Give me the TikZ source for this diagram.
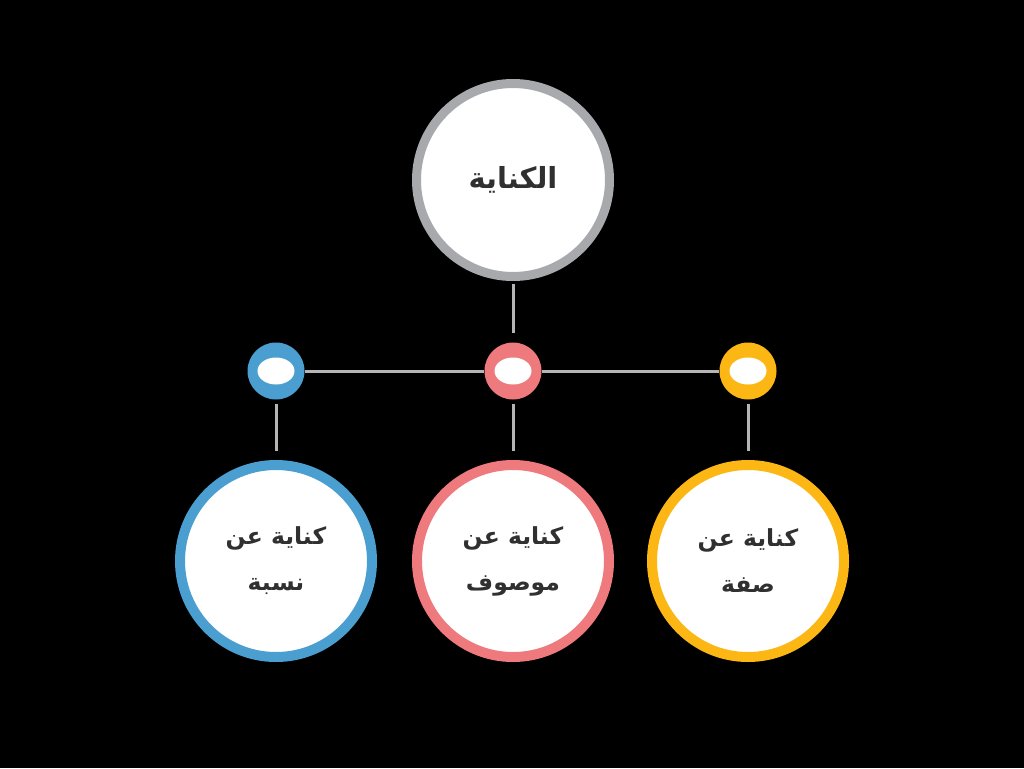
\documentclass[tikz,border=0pt]{standalone}
\usepackage{fontspec}
\newfontfamily\arabicfont[Script=Arabic]{DejaVu Sans}
\TeXXeTstate=1
\definecolor{ringgray}{HTML}{A7A9AC}
\definecolor{lnk}{HTML}{B5B5B5}
\definecolor{cblue}{HTML}{4A9FD0}
\definecolor{cpink}{HTML}{EF7A7D}
\definecolor{cyellow}{HTML}{FDB714}
\definecolor{txt}{HTML}{303030}
\tikzset{
  bigc/.style={circle, fill=white, draw=#1, line width=10pt, minimum size=192pt, inner sep=0pt,
    text=txt, align=center, font=\arabicfont\bfseries\fontsize{23.5}{46}\selectfont},
  dot/.style={circle, fill=#1, minimum size=57pt, inner sep=0pt},
  lnkline/.style={draw=lnk, line width=3pt}
}
\begin{document}
\begin{tikzpicture}[x=1pt,y=-1pt]
\fill[black] (0,0) rectangle (1024,768);
\useasboundingbox (0,0) rectangle (1024,768);
\node[bigc=ringgray, line width=9pt, minimum size=193pt, font=\arabicfont\bfseries\fontsize{29}{34}\selectfont] (top) at (513,180) {\raisebox{2pt}{\beginR الكناية\endR}};
\node[dot=cblue] (dblue) at (276,371) {};
\node[dot=cpink] (dpink) at (513,371) {};
\node[dot=cyellow] (dyellow) at (748,371) {};
\foreach \d in {dblue,dpink,dyellow}
  \fill[white] (\d.center) ellipse [x radius=18.5pt, y radius=13.5pt];
\node[bigc=cblue] (nblue) at (276,561) {\beginR كناية عن\endR\\\beginR نسبة\endR};
\node[bigc=cpink] (npink) at (513,561) {\beginR كناية عن\endR\\\beginR موصوف\endR};
\node[bigc=cyellow] (nyellow) at (748,561) {\beginR كناية عن\endR\\\beginR صفة\endR};
\draw[lnkline, shorten <=3pt, shorten >=9pt] (top) -- (dpink);
\draw[lnkline] (dblue) -- (dpink);
\draw[lnkline] (dpink) -- (dyellow);
\foreach \a/\b in {dblue/nblue,dpink/npink,dyellow/nyellow}
  \draw[lnkline, shorten <=4pt, shorten >=9pt] (\a) -- (\b);
\end{tikzpicture}
\end{document}
